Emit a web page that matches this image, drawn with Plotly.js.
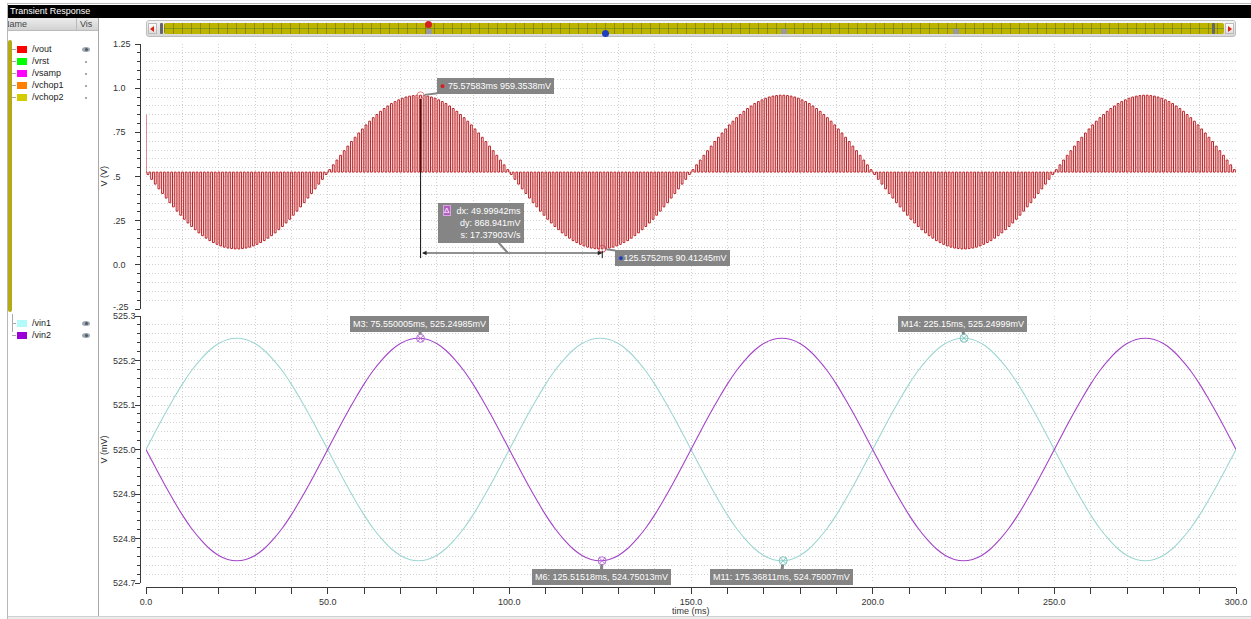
<!DOCTYPE html>
<html>
<head>
<meta charset="utf-8">
<script src="https://cdn.plot.ly/plotly-3.0.1.min.js"></script>
<style>
  html,body{margin:0;padding:0;background:#fff;overflow:hidden;}
  body{width:1251px;height:619px;position:relative;font-family:"Liberation Sans",Arial,sans-serif;}
  #chart{position:absolute;left:0;top:0;width:1251px;height:619px;}
  .ov{position:absolute;z-index:5;}
  .txt{font-size:9px;color:#222;white-space:nowrap;}
  .sw{position:absolute;width:10px;height:7px;}
  .eye{position:absolute;width:8px;height:5px;border-radius:50%;background:#9aa6b0;}
  .eye:after{content:"";position:absolute;left:3px;top:1px;width:3px;height:3px;border-radius:50%;background:#556;}
  .dot{position:absolute;width:2px;height:2px;background:#888;border-radius:1px;}
  .hl{position:absolute;height:1px;background:#aaa;}
  .vl{position:absolute;width:1px;background:#aaa;}
</style>
</head>
<body>
<div id="chart"></div>
<script>
// ---------------- data ----------------
const seriesNames = ["/vout", "/vrst", "/vsamp", "/vchop1", "/vchop2"];
const seriesNames2 = ["/vin1", "/vin2"];

const voutBase = 0.525;          // V, level between chopper pulses
const voutStartV = [0.85, 0.525]; // initial spike at t = 0
const voutPulseStep = 1.0;        // ms between pulses
// pulse tip values (V), one per pulse, read from the envelope
const voutTips = [
0.511,0.484,0.457,0.430,0.404,0.378,0.352,0.328,0.304,0.281,
0.258,0.237,0.217,0.199,0.181,0.165,0.151,0.137,0.126,0.116,
0.107,0.100,0.095,0.092,0.090,0.090,0.092,0.095,0.100,0.107,
0.116,0.126,0.137,0.151,0.165,0.181,0.199,0.217,0.237,0.258,
0.281,0.304,0.328,0.352,0.378,0.404,0.430,0.457,0.484,0.511,
0.539,0.566,0.593,0.620,0.646,0.672,0.698,0.722,0.746,0.769,
0.792,0.813,0.833,0.851,0.869,0.885,0.899,0.913,0.924,0.934,
0.943,0.950,0.955,0.958,0.960,0.960,0.958,0.955,0.950,0.943,
0.934,0.924,0.913,0.899,0.885,0.869,0.851,0.833,0.813,0.792,
0.769,0.746,0.722,0.698,0.672,0.646,0.620,0.593,0.566,0.539,
0.511,0.484,0.457,0.430,0.404,0.378,0.352,0.328,0.304,0.281,
0.258,0.237,0.217,0.199,0.181,0.165,0.151,0.137,0.126,0.116,
0.107,0.100,0.095,0.092,0.090,0.090,0.092,0.095,0.100,0.107,
0.116,0.126,0.137,0.151,0.165,0.181,0.199,0.217,0.237,0.258,
0.281,0.304,0.328,0.352,0.378,0.404,0.430,0.457,0.484,0.511,
0.539,0.566,0.593,0.620,0.646,0.672,0.698,0.722,0.746,0.769,
0.792,0.813,0.833,0.851,0.869,0.885,0.899,0.913,0.924,0.934,
0.943,0.950,0.955,0.958,0.960,0.960,0.958,0.955,0.950,0.943,
0.934,0.924,0.913,0.899,0.885,0.869,0.851,0.833,0.813,0.792,
0.769,0.746,0.722,0.698,0.672,0.646,0.620,0.593,0.566,0.539,
0.511,0.484,0.457,0.430,0.404,0.378,0.352,0.328,0.304,0.281,
0.258,0.237,0.217,0.199,0.181,0.165,0.151,0.137,0.126,0.116,
0.107,0.100,0.095,0.092,0.090,0.090,0.092,0.095,0.100,0.107,
0.116,0.126,0.137,0.151,0.165,0.181,0.199,0.217,0.237,0.258,
0.281,0.304,0.328,0.352,0.378,0.404,0.430,0.457,0.484,0.511,
0.539,0.566,0.593,0.620,0.646,0.672,0.698,0.722,0.746,0.769,
0.792,0.813,0.833,0.851,0.869,0.885,0.899,0.913,0.924,0.934,
0.943,0.950,0.955,0.958,0.960,0.960,0.958,0.955,0.950,0.943,
0.934,0.924,0.913,0.899,0.885,0.869,0.851,0.833,0.813,0.792,
0.769,0.746,0.722,0.698,0.672,0.646,0.620,0.593,0.566,0.539
];

const vinStep = 2.5; // ms between samples
const vin1 = [
525.000,525.039,525.077,525.113,525.147,525.177,525.202,525.223,525.238,525.247,
525.250,525.247,525.238,525.223,525.202,525.177,525.147,525.113,525.077,525.039,
525.000,524.961,524.923,524.887,524.853,524.823,524.798,524.777,524.762,524.753,
524.750,524.753,524.762,524.777,524.798,524.823,524.853,524.887,524.923,524.961,
525.000,525.039,525.077,525.113,525.147,525.177,525.202,525.223,525.238,525.247,
525.250,525.247,525.238,525.223,525.202,525.177,525.147,525.113,525.077,525.039,
525.000,524.961,524.923,524.887,524.853,524.823,524.798,524.777,524.762,524.753,
524.750,524.753,524.762,524.777,524.798,524.823,524.853,524.887,524.923,524.961,
525.000,525.039,525.077,525.113,525.147,525.177,525.202,525.223,525.238,525.247,
525.250,525.247,525.238,525.223,525.202,525.177,525.147,525.113,525.077,525.039,
525.000,524.961,524.923,524.887,524.853,524.823,524.798,524.777,524.762,524.753,
524.750,524.753,524.762,524.777,524.798,524.823,524.853,524.887,524.923,524.961,
525.000
];
const vin2 = [
525.000,524.961,524.923,524.887,524.853,524.823,524.798,524.777,524.762,524.753,
524.750,524.753,524.762,524.777,524.798,524.823,524.853,524.887,524.923,524.961,
525.000,525.039,525.077,525.113,525.147,525.177,525.202,525.223,525.238,525.247,
525.250,525.247,525.238,525.223,525.202,525.177,525.147,525.113,525.077,525.039,
525.000,524.961,524.923,524.887,524.853,524.823,524.798,524.777,524.762,524.753,
524.750,524.753,524.762,524.777,524.798,524.823,524.853,524.887,524.923,524.961,
525.000,525.039,525.077,525.113,525.147,525.177,525.202,525.223,525.238,525.247,
525.250,525.247,525.238,525.223,525.202,525.177,525.147,525.113,525.077,525.039,
525.000,524.961,524.923,524.887,524.853,524.823,524.798,524.777,524.762,524.753,
524.750,524.753,524.762,524.777,524.798,524.823,524.853,524.887,524.923,524.961,
525.000,525.039,525.077,525.113,525.147,525.177,525.202,525.223,525.238,525.247,
525.250,525.247,525.238,525.223,525.202,525.177,525.147,525.113,525.077,525.039,
525.000
];

// markers (time ms, value)
const markerAT = [75.57583], markerAV = [0.9593538];
const markerBT = [125.5752], markerBV = [0.09041245];
const deltaText = ["dx: 49.99942ms", "dy: 868.941mV", "s: 17.37903V/s"];
const purpleMarkT = [75.550005, 125.51518];
const purpleMarkV = [525.24985, 524.75013];
const purpleMarkName = ["M3", "M6"];
const tealMarkT = [175.36811, 225.15];
const tealMarkV = [524.75007, 525.24999];
const tealMarkName = ["M11", "M14"];

const yTopTicks = [1.25, 1.0, 0.75, 0.5, 0.25, 0.0, -0.25];
const yTopText = ["1.25", "1.0", ".75", ".5", ".25", "0.0", "-.25"];
const yBotTicks = [525.3, 525.2, 525.1, 525.0, 524.9, 524.8, 524.7];
const yBotText = ["525.3", "525.2", "525.1", "525.0", "524.9", "524.8", "524.7"];

// ---------------- build traces ----------------
const vx = [0, 0], vy = voutStartV.slice();
voutTips.forEach((v, k) => {
  const t0 = k * voutPulseStep + 0.3, t1 = t0 + 0.5;
  vx.push(t0, t0, t1, t1);
  vy.push(voutBase, v, v, voutBase);
});
vx.push(300); vy.push(voutBase);

const vinT = vin1.map((_, i) => i * vinStep);

const traces = [
  {x: vx, y: vy, xaxis: 'x', yaxis: 'y', mode: 'lines', line: {color: '#bd2226', width: 1}, hoverinfo: 'skip'},
  {x: vinT, y: vin1, xaxis: 'x', yaxis: 'y2', mode: 'lines', line: {color: '#9ed6d2', width: 1.1, shape: 'spline'}},
  {x: vinT, y: vin2, xaxis: 'x', yaxis: 'y2', mode: 'lines', line: {color: '#a344c8', width: 1.1, shape: 'spline'}},
  {x: markerAT, y: markerAV, xaxis: 'x', yaxis: 'y', mode: 'markers', marker: {symbol: 'circle-open', size: 7, color: '#e58a8a', line: {width: 1}}},
  {x: markerBT, y: markerBV, xaxis: 'x', yaxis: 'y', mode: 'markers', marker: {symbol: 'circle-open', size: 7, color: '#d84a5a', line: {width: 1}}},
  {x: purpleMarkT, y: purpleMarkV, xaxis: 'x', yaxis: 'y2', mode: 'markers', marker: {symbol: 'circle-x-open', size: 8, color: '#b56ad6', line: {width: 1}}},
  {x: tealMarkT, y: tealMarkV, xaxis: 'x', yaxis: 'y2', mode: 'markers', marker: {symbol: 'circle-x-open', size: 8, color: '#7fc5bf', line: {width: 1}}}
];

// ---------------- layout ----------------
const gridC = '#d2d2d2', dash = '1px,2px', axC = '#3a3a3a';
const W = 1096, H = 543; // plot area in px (margin l=140, t=44)
const px = p => (p - 140) / W;
const py = p => (587 - p) / H;

const annotations = [];
yTopTicks.forEach((v, i) => annotations.push({xref: 'paper', yref: 'y', x: px(111), y: v, xanchor: 'left', yanchor: 'middle', yshift: (v === -0.25 ? 2 : 0), text: yTopText[i], showarrow: false, font: {size: 9, color: '#333'}}));
yBotTicks.forEach((v, i) => annotations.push({xref: 'paper', yref: 'y2', x: px(111), y: v, xanchor: 'left', yanchor: 'middle', text: yBotText[i], showarrow: false, font: {size: 9, color: '#333'}}));
annotations.push({xref: 'paper', yref: 'y', x: px(103), y: 0.5, xanchor: 'center', yanchor: 'middle', text: 'V (V)', textangle: -90, showarrow: false, font: {size: 9, color: '#333'}});
annotations.push({xref: 'paper', yref: 'y2', x: px(103), y: 525.0, xanchor: 'center', yanchor: 'middle', text: 'V (mV)', textangle: -90, showarrow: false, font: {size: 9, color: '#333'}});
annotations.push({xref: 'x', yref: 'paper', x: 150, y: py(611), xanchor: 'center', yanchor: 'middle', text: 'time (ms)', showarrow: false, font: {size: 9, color: '#333'}});

const lblFont = {size: 9, color: '#ffffff'};
const lblBg = '#858585';
// marker A / B labels
annotations.push({xref: 'x', yref: 'y', x: markerAT[0], y: markerAV[0], axref: 'pixel', ayref: 'pixel', ax: 75, ay: -9,
  text: '<span style="color:#d42020">●</span> ' + markerAT[0].toFixed(5) + 'ms ' + (markerAV[0] * 1000).toFixed(4) + 'mV',
  showarrow: true, arrowhead: 0, arrowwidth: 2, arrowcolor: lblBg, standoff: 4, bgcolor: lblBg, bordercolor: lblBg, borderpad: 2, font: lblFont});
annotations.push({xref: 'x', yref: 'y', x: markerBT[0], y: markerBV[0], axref: 'pixel', ayref: 'pixel', ax: 70, ay: 9,
  text: '<span style="color:#1f3fbf">●</span>' + markerBT[0].toFixed(4) + 'ms ' + (markerBV[0] * 1000).toFixed(5) + 'mV',
  showarrow: true, arrowhead: 0, arrowwidth: 2, arrowcolor: lblBg, standoff: 4, bgcolor: lblBg, bordercolor: lblBg, borderpad: 2, font: lblFont});
// delta dimension line
const dimY = 0.067;
annotations.push({xref: 'x', yref: 'y', x: markerBT[0], y: dimY, axref: 'x', ayref: 'y', ax: markerAT[0], ay: dimY, text: '',
  showarrow: true, arrowside: 'end+start', arrowhead: 2, arrowsize: 0.9, arrowwidth: 1, arrowcolor: '#222'});
// delta box
annotations.push({xref: 'x', yref: 'y', x: 99.6, y: dimY, axref: 'pixel', ayref: 'pixel', ax: -27, ay: -30,
  text: deltaText.join('<br>'), align: 'right', width: 80, height: 34,
  showarrow: true, arrowhead: 0, arrowwidth: 2, arrowcolor: lblBg, bgcolor: lblBg, bordercolor: lblBg, borderpad: 2, font: lblFont});
annotations.push({xref: 'paper', yref: 'paper', x: px(447), y: py(210), xanchor: 'center', yanchor: 'middle', text: 'Δ', showarrow: false, bgcolor: '#b45ec4', bordercolor: '#d7a6df', borderwidth: 1, borderpad: 0, font: {size: 8, color: '#fff'}});
// bottom markers
purpleMarkT.forEach((t, i) => {
  const up = purpleMarkV[i] > 525;
  annotations.push({xref: 'x', yref: 'y2', x: t, y: purpleMarkV[i], axref: 'pixel', ayref: 'pixel', ax: -1, ay: up ? -14 : 16,
    text: purpleMarkName[i] + ': ' + t + 'ms, ' + purpleMarkV[i] + 'mV',
    showarrow: true, arrowhead: 0, arrowwidth: 3, arrowcolor: lblBg, standoff: 4, bgcolor: lblBg, bordercolor: lblBg, borderpad: 2, font: lblFont});
});
tealMarkT.forEach((t, i) => {
  const up = tealMarkV[i] > 525;
  annotations.push({xref: 'x', yref: 'y2', x: t, y: tealMarkV[i], axref: 'pixel', ayref: 'pixel', ax: -2, ay: up ? -14 : 16,
    text: tealMarkName[i] + ': ' + t + 'ms, ' + tealMarkV[i] + 'mV',
    showarrow: true, arrowhead: 0, arrowwidth: 3, arrowcolor: lblBg, standoff: 4, bgcolor: lblBg, bordercolor: lblBg, borderpad: 2, font: lblFont});
});

const shapes = [
  {type: 'line', xref: 'x', yref: 'y', x0: markerAT[0], x1: markerAT[0], y0: markerAV[0] - 0.02, y1: 0.038, line: {color: '#111', width: 1}},
  {type: 'line', xref: 'x', yref: 'y', x0: markerBT[0], x1: markerBT[0], y0: markerBV[0] - 0.01, y1: 0.038, line: {color: '#111', width: 1}}
];

function yAxis(domain, range, dt, t0, mdt) {
  return {domain: domain, range: range, anchor: 'free', position: 0, showline: true, linecolor: axC, linewidth: 1,
    ticks: 'outside', ticklen: 5, tickcolor: axC, tickmode: 'linear', tick0: t0, dtick: dt, showticklabels: false,
    showgrid: true, gridcolor: gridC, griddash: dash, zeroline: false,
    minor: {tickmode: 'linear', tick0: t0, dtick: mdt, ticks: 'outside', ticklen: 3, tickcolor: axC, showgrid: true, gridcolor: gridC, griddash: dash}};
}

const layout = {
  width: 1251, height: 619,
  margin: {l: 140, r: 15, t: 44, b: 32, pad: 0},
  paper_bgcolor: 'rgba(0,0,0,0)', plot_bgcolor: '#fff',
  showlegend: false,
  font: {family: '"Liberation Sans", Arial, sans-serif', size: 9, color: '#333'},
  xaxis: {domain: [6 / W, 1], range: [0, 300], anchor: 'free', position: 0, showline: true, linecolor: axC, linewidth: 1,
    ticks: 'outside', ticklen: 6, tickcolor: axC, tickmode: 'linear', tick0: 0, dtick: 50, tickformat: '.1f',
    tickfont: {size: 9, color: '#333'}, showgrid: true, gridcolor: gridC, griddash: dash, zeroline: false,
    minor: {tickmode: 'linear', tick0: 0, dtick: 10, ticks: 'outside', ticklen: 6, tickcolor: axC, showgrid: true, gridcolor: gridC, griddash: dash}},
  yaxis: yAxis([py(309), 1], [-0.25, 1.25], 0.25, -0.25, 0.05),
  yaxis2: yAxis([py(583), py(316)], [524.7, 525.3], 0.1, 524.7, 0.02),
  annotations: annotations,
  shapes: shapes
};

Plotly.newPlot('chart', traces, layout, {staticPlot: true, displayModeBar: false});
</script>

<!-- window chrome -->
<div class="ov" style="left:7px;top:3px;width:1244px;height:1px;background:#b8b8b8;"></div>
<div class="ov" style="left:7px;top:3px;width:1px;height:616px;background:#b8b8b8;"></div>
<div class="ov txt" style="left:8px;top:5px;width:1243px;height:13px;background:#000;color:#fff;line-height:13px;padding-left:2px;box-sizing:border-box;">Transient Response</div>

<!-- left panel -->
<div class="ov" style="left:8px;top:18px;width:90px;height:598px;background:#fff;border-right:1px solid #a8a8a8;overflow:hidden;">
  <div style="position:absolute;left:0;top:0;width:90px;height:12px;background:linear-gradient(#ececec,#d2d2d2);border-bottom:1px solid #bbb;overflow:hidden;">
    <div class="txt" style="position:absolute;left:-5px;top:0;line-height:12px;color:#444;">Name</div>
    <div style="position:absolute;left:68px;top:0;width:1px;height:12px;background:#bbb;"></div>
    <div class="txt" style="position:absolute;left:72px;top:0;line-height:12px;color:#444;">Vis</div>
  </div>
  <div style="position:absolute;left:0;top:22px;width:4px;height:272px;background:#b3aa14;border-radius:2px;"></div>
  <div id="grp1"></div>
  <div class="vl" style="left:4px;top:296px;height:18px;"></div>
</div>
<div class="ov" style="left:8px;top:616px;width:1243px;height:3px;background:#ececec;border-top:1px solid #d0d0d0;"></div>

<!-- scrollbar -->
<div class="ov" style="left:146px;top:20px;width:1090px;height:17px;background:linear-gradient(#f4f4f4,#d8d8d8);border:1px solid #bdbdbd;box-sizing:border-box;border-radius:3px;">
  <div style="position:absolute;left:1px;top:2px;width:9px;height:11px;background:linear-gradient(#fff,#ddd);border:1px solid #bbb;box-sizing:border-box;"></div>
  <div style="position:absolute;left:3px;top:5px;width:0;height:0;border-top:3px solid transparent;border-bottom:3px solid transparent;border-right:4px solid #d21;"></div>
  <div style="position:absolute;left:13px;top:2px;width:3px;height:11px;background:#666;border-radius:1px;"></div>
  <div style="position:absolute;left:17px;top:2px;width:1060px;height:11px;background:#bdb400;border-radius:2px;background-image:repeating-linear-gradient(90deg,rgba(120,110,0,0.6) 0 1px,transparent 1px 9px),linear-gradient(transparent 45%,rgba(90,140,40,0.6) 45% 55%,transparent 55%);"></div>
  <div style="position:absolute;left:1065px;top:2px;width:3px;height:11px;background:#666;border-radius:1px;"></div>
  <div style="position:absolute;left:1078px;top:2px;width:9px;height:11px;background:linear-gradient(#fff,#ddd);border:1px solid #bbb;box-sizing:border-box;"></div>
  <div style="position:absolute;left:1081px;top:5px;width:0;height:0;border-top:3px solid transparent;border-bottom:3px solid transparent;border-left:4px solid #d21;"></div>
  <div style="position:absolute;left:278px;top:0px;width:7px;height:7px;border-radius:50%;background:#d42020;"></div>
  <div style="position:absolute;left:455px;top:9px;width:7px;height:7px;border-radius:50%;background:#1f3fbf;"></div>
  <div style="position:absolute;left:279px;top:8px;width:6px;height:5px;background:#999;"></div>
  <div style="position:absolute;left:634px;top:8px;width:6px;height:5px;background:#999;"></div>
  <div style="position:absolute;left:806px;top:8px;width:6px;height:5px;background:#999;"></div>
</div>

<script>
(function(){
  const grp = document.getElementById('grp1');
  const cols1 = ['#ff0000', '#00ff00', '#ff00ff', '#ff8000', '#d4cc00'];
  const cols2 = ['#b3fbfb', '#9a00d8'];
  let html = '';
  seriesNames.forEach((n, i) => {
    const y = 28 + i * 12;
    html += '<div class="hl" style="left:4px;top:' + (y + 3) + 'px;width:4px;"></div>';
    html += '<div class="sw" style="left:9px;top:' + y + 'px;background:' + cols1[i] + ';"></div>';
    html += '<div class="txt" style="position:absolute;left:24px;top:' + (y - 2) + 'px;line-height:11px;">' + n + '</div>';
    if (i === 0) html += '<div class="eye" style="left:74px;top:' + (y + 1) + 'px;"></div>';
    else html += '<div class="dot" style="left:77px;top:' + (y + 3) + 'px;"></div>';
  });
  seriesNames2.forEach((n, i) => {
    const y = 302 + i * 12;
    html += '<div class="hl" style="left:4px;top:' + (y + 3) + 'px;width:4px;"></div>';
    html += '<div class="sw" style="left:9px;top:' + y + 'px;background:' + cols2[i] + ';"></div>';
    html += '<div class="txt" style="position:absolute;left:24px;top:' + (y - 2) + 'px;line-height:11px;">' + n + '</div>';
    html += '<div class="eye" style="left:74px;top:' + (y + 1) + 'px;"></div>';
  });
  grp.innerHTML = html;
})();
</script>
</body>
</html>
